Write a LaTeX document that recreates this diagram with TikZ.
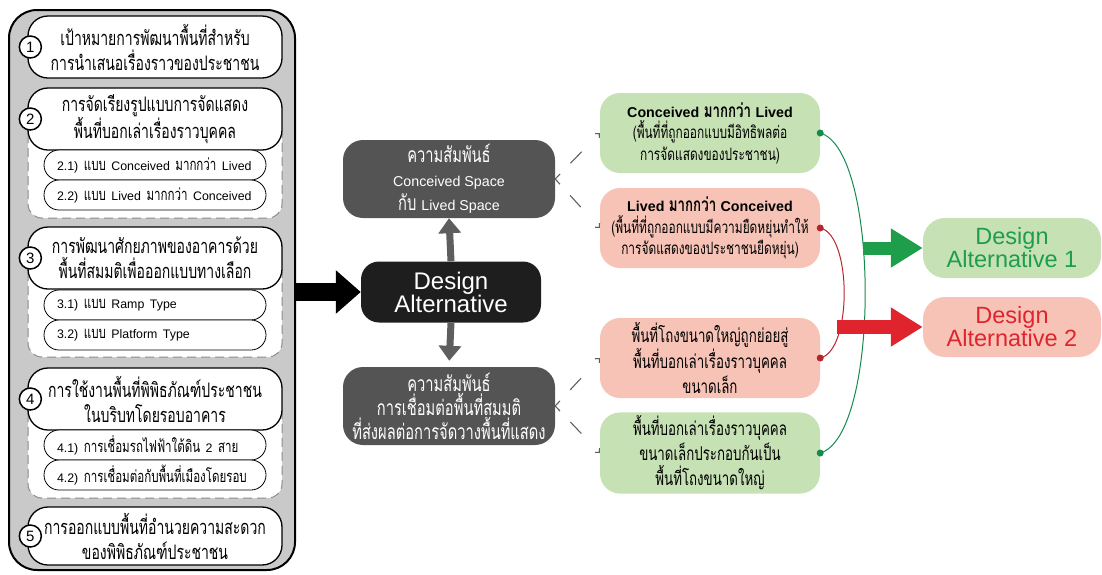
\documentclass[tikz,border=0pt]{standalone}
\usepackage{fontspec}
\setmainfont{Liberation Sans}
\newfontfamily\thaifont[Script=Thai,FakeStretch=0.7]{Loma}
\newfontfamily\latinfont[Scale=0.75]{Liberation Sans}
\usepackage{tikz}
\usetikzlibrary{arrows.meta}

\definecolor{panelgray}{HTML}{C9C9C9}
\definecolor{dashgray}{HTML}{8A8A8A}
\definecolor{darkbox}{HTML}{545454}
\definecolor{blackbox}{HTML}{1E1E1E}
\definecolor{arrowgray}{HTML}{5E5E5E}
\definecolor{lgreen}{HTML}{C6E1B4}
\definecolor{lred}{HTML}{F6C3B6}
\definecolor{altgreen}{HTML}{1E9E4A}
\definecolor{altred}{HTML}{E0242E}
\definecolor{curvegreen}{HTML}{168A4E}
\definecolor{curvered}{HTML}{B8242C}

\newcommand{\lat}[1]{{\latinfont #1}}

\begin{document}
\begin{tikzpicture}[x=1pt,y=-1pt,>=Latex,
  panelbox/.style={draw=black,fill=panelgray,line width=2pt,rounded corners=28pt,minimum width=286pt,minimum height=560pt},
  subarea/.style={draw=dashgray,fill=white,line width=1pt,dash pattern=on 9pt off 5pt,rounded corners=14pt},
  mainbox/.style={draw=black,fill=white,line width=1.3pt,rounded corners=20pt,minimum width=254pt,minimum height=62pt,align=center,font=\thaifont\fontsize{20}{25}\selectfont},
  subbox/.style={draw=black,fill=white,line width=0.8pt,rounded corners=15pt,minimum height=30pt,text width=196pt,inner xsep=13pt,align=left,font=\thaifont\fontsize{16.5}{17}\selectfont},
  numdot/.style={circle,draw=black,fill=white,line width=1.5pt,minimum size=22pt,inner sep=0pt,font=\fontsize{15}{15}\selectfont},
  relbox/.style={fill=darkbox,text=white,rounded corners=20pt,minimum width=212pt,minimum height=78pt,align=center,font=\thaifont\fontsize{21}{24}\selectfont},
  dabox/.style={fill=blackbox,text=white,rounded corners=18pt,minimum width=180pt,minimum height=61pt,align=center,font=\fontsize{24}{23}\selectfont},
  optbox/.style={rounded corners=20pt,minimum width=220pt,minimum height=80pt,align=center,font=\thaifont\fontsize{17}{21.5}\selectfont},
  resultbox/.style={rounded corners=22pt,minimum width=178pt,minimum height=60pt,align=center,font=\fontsize{23.5}{23}\selectfont},
  greyarrow/.style={draw=arrowgray,line width=7pt,-{Triangle[length=15pt,width=22pt]}},
  linkarrow/.style={draw=arrowgray,line width=1.1pt,dash pattern=on 7pt off 15pt on 16pt off 60pt,-{Straight Barb[length=3pt,width=6pt]}},
  gcurve/.style={draw=curvegreen,line width=1pt},
  rcurve/.style={draw=curvered,line width=1pt}]
\useasboundingbox (0,0) rectangle (1102,574);

\node[panelbox] (panel) at (152,290) {};
\draw[subarea] (28,120) rectangle (282,218);
\draw[subarea] (28,258) rectangle (282,357);
\draw[subarea] (28,399) rectangle (282,498);

\node[mainbox] (b1) at (155,47) {เป้าหมายการพัฒนาพื้นที่สำหรับ\\การนำเสนอเรื่องราวของประชาชน};
\node[mainbox] (b2) at (155,119) {การจัดเรียงรูปแบบการจัดแสดง\\พื้นที่บอกเล่าเรื่องราวบุคคล};
\node[subbox] (s21) at (155,165) {\lat{2.1)} แบบ \lat{Conceived} มากกว่า \lat{Lived}};
\node[subbox] (s22) at (155,195) {\lat{2.2)} แบบ \lat{Lived} มากกว่า \lat{Conceived}};
\node[mainbox] (b3) at (155,258) {การพัฒนาศักยภาพของอาคารด้วย\\พื้นที่สมมติเพื่อออกแบบทางเลือก};
\node[subbox] (s31) at (155,305) {\lat{3.1)} แบบ \lat{Ramp Type}};
\node[subbox] (s32) at (155,335) {\lat{3.2)} แบบ \lat{Platform Type}};
\node[mainbox] (b4) at (155,399) {การใช้งานพื้นที่พิพิธภัณฑ์ประชาชน\\ในบริบทโดยรอบอาคาร};
\node[subbox] (s41) at (155,445) {\lat{4.1)} การเชื่อมรถไฟฟ้าใต้ดิน \lat{2} สาย};
\node[subbox] (s42) at (155,475) {\lat{4.2)} การเชื่อมต่อกับพื้นที่เมืองโดยรอบ};
\node[mainbox,minimum height=58pt] (b5) at (155,536) {การออกแบบพื้นที่อำนวยความสะดวก\\ของพิพิธภัณฑ์ประชาชน};

\node[numdot,xshift=3pt] (n1) at (b1.west) {1};
\node[numdot,xshift=3pt] (n2) at (b2.west) {2};
\node[numdot,xshift=3pt] (n3) at (b3.west) {3};
\node[numdot,xshift=3pt] (n4) at (b4.west) {4};
\node[numdot,xshift=3pt] (n5) at (b5.west) {5};

\node[dabox] (dalt) at (451,292) {Design\\Alternative};
\node[relbox] (rel1) at (449,179) {ความสัมพันธ์\\{\fontsize{19}{24}\selectfont\lat{Conceived Space}}\\กับ {\fontsize{19}{24}\selectfont\lat{Lived Space}}};
\node[relbox] (rel2) at (449,406) {ความสัมพันธ์\\การเชื่อมต่อพื้นที่สมมติ\\ที่ส่งผลต่อการจัดวางพื้นที่แสดง};

\draw[line width=18pt,-{Triangle[length=25pt,width=42pt]}] (panel.east |- dalt.west) -- (dalt.west);
\draw[greyarrow] (dalt.north) -- (rel1.south);
\draw[greyarrow,shorten >=6pt] (dalt.south) -- (rel2.north);

\node[optbox,fill=lgreen] (g1) at (710,133) {{\fontsize{19}{21.5}\selectfont\bfseries\lat{Conceived} มากกว่า \lat{Lived}}\\(พื้นที่ที่ถูกออกแบบมีอิทธิพลต่อ\\การจัดแสดงของประชาชน)};
\node[optbox,fill=lred] (r1) at (710,228) {{\fontsize{19}{21.5}\selectfont\bfseries\lat{Lived} มากกว่า \lat{Conceived}}\\(พื้นที่ที่ถูกออกแบบมีความยืดหยุ่นทำให้\\การจัดแสดงของประชาชนยืดหยุ่น)};
\node[optbox,fill=lred,font=\thaifont\fontsize{19}{25}\selectfont] (r2) at (710,358) {พื้นที่โถงขนาดใหญ่ถูกย่อยสู่\\พื้นที่บอกเล่าเรื่องราวบุคคล\\ขนาดเล็ก};
\node[optbox,fill=lgreen,font=\thaifont\fontsize{19}{25}\selectfont] (g2) at (710,453) {พื้นที่บอกเล่าเรื่องราวบุคคล\\ขนาดเล็กประกอบกันเป็น\\พื้นที่โถงขนาดใหญ่};

\draw[linkarrow] (rel1.east) -- (g1.west);
\draw[linkarrow] (rel1.east) -- (r1.west);
\draw[linkarrow] (rel2.east) -- (r2.west);
\draw[linkarrow] (rel2.east) -- (g2.west);

\node[resultbox,fill=lgreen,text=altgreen] (alt1) at (1012,248) {Design\\Alternative 1};
\node[resultbox,fill=lred,text=altred] (alt2) at (1012,327) {Design\\Alternative 2};

\draw[gcurve] (g1.east) .. controls +(60,17) and +(60,-17) .. (g2.east);
\draw[rcurve] (r1.east) .. controls +(32,7) and +(32,-7) .. (r2.east);
\fill[curvegreen] (g1.east) circle (3.5pt) (g2.east) circle (3.5pt);
\fill[curvered] (r1.east) circle (3.5pt) (r2.east) circle (3.5pt);

\coordinate (gstart) at (863,248);
\coordinate (rstart) at (837,327);
\draw[altgreen,line width=13pt,-{Triangle[length=32pt,width=37pt]}] (gstart) -- (alt1.west);
\draw[altred,line width=14pt,-{Triangle[length=32pt,width=37pt]}] (rstart) -- (alt2.west);
\end{tikzpicture}
\end{document}
